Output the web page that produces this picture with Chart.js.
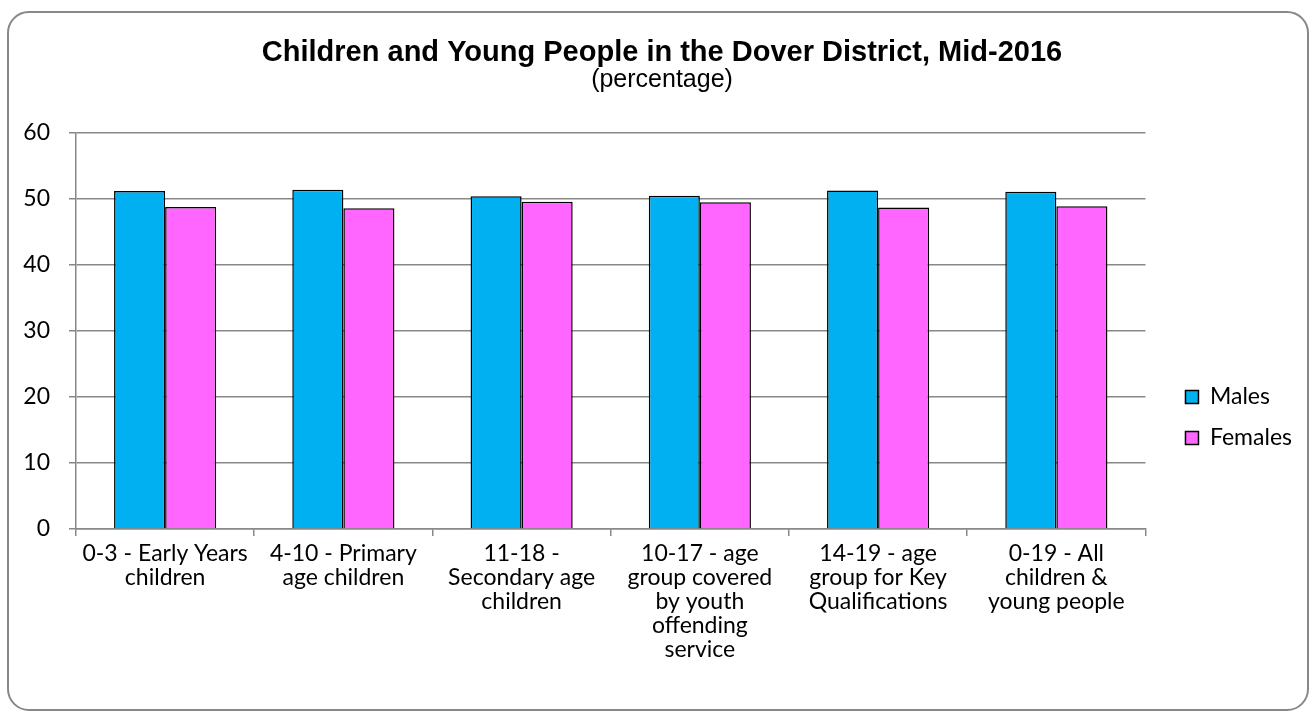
<!DOCTYPE html>
<html>
<head>
<meta charset="utf-8">
<script src="https://cdn.jsdelivr.net/npm/chart.js@4.4.1/dist/chart.umd.min.js"></script>
<style>
  html, body { margin: 0; padding: 0; background: #fff; }
  #frame {
    position: absolute; left: 7px; top: 11px;
    width: 1298px; height: 696px;
    border: 2px solid #888; border-radius: 22px;
  }
  #wrap { position: absolute; left: 0; top: 0; width: 1316px; height: 717px; }
</style>
</head>
<body>
<div id="frame"></div>
<div id="wrap"><canvas id="chart"></canvas></div>
<script>
/* Children and Young People in the Dover District, Mid-2016 */

// ── Data ─────────────────────────────────────────────────────────────────────
const categories = [
  ['0-3 - Early Years', 'children'],
  ['4-10 - Primary', 'age children'],
  ['11-18 -', 'Secondary age', 'children'],
  ['10-17 - age', 'group covered', 'by youth', 'offending', 'service'],
  ['14-19 - age', 'group for Key', 'Qualifications'],
  ['0-19 - All', 'children &', 'young people'],
];
const males   = [51.2, 51.4, 50.4, 50.5, 51.3, 51.1];
const females = [48.8, 48.6, 49.6, 49.5, 48.7, 48.9];
const yTicks  = [0, 10, 20, 30, 40, 50, 60];

const GRID = '#888';
const TEXT_FONT = 'Lato, "Open Sans", sans-serif';
const TITLE_FONT = '"Liberation Sans", Arial, sans-serif';

// ── Chart ────────────────────────────────────────────────────────────────────
new Chart(document.getElementById('chart'), {
  type: 'bar',
  data: {
    labels: categories,
    datasets: [
      { label: 'Males', data: males, backgroundColor: '#00B0F0',
        borderColor: '#000', borderWidth: 1.5 },
      { label: 'Females', data: females, backgroundColor: '#FF66FF',
        borderColor: '#000', borderWidth: 1.5 },
    ]
  },
  options: {
    responsive: true,
    maintainAspectRatio: false,
    animation: false,
    layout: { padding: { left: 22, right: 14, top: 0, bottom: 0 } },
    datasets: { bar: { categoryPercentage: 0.573, barPercentage: 1 } },
    plugins: {
      title: {
        display: true,
        text: 'Children and Young People in the Dover District, Mid-2016',
        color: '#000',
        font: { family: TITLE_FONT, size: 29, weight: 'bold', lineHeight: 1 },
        padding: { top: 38, bottom: 1 },
      },
      subtitle: {
        display: true,
        text: '(percentage)',
        color: '#000',
        font: { family: TITLE_FONT, size: 25, lineHeight: 1 },
        padding: { top: 0, bottom: 40 },
      },
      legend: {
        position: 'right',
        align: 'center',
        // empty title only pushes the key down to where it sits in the original
        title: { display: true, text: ' ', font: { size: 10, lineHeight: 1 }, padding: { top: 108, bottom: 0 } },
        labels: {
          color: '#000',
          font: { family: TEXT_FONT, size: 23 },
          boxWidth: 13, boxHeight: 13,
          padding: 18,
        }
      },
      tooltip: { enabled: false },
    },
    scales: {
      x: {
        grid: { drawOnChartArea: false, drawTicks: true, tickLength: 7, color: GRID, lineWidth: 1.5 },
        border: { color: GRID, width: 1.5 },
        ticks: { color: '#000', font: { family: TEXT_FONT, size: 23, lineHeight: 24 / 23 },
                 padding: 6, maxRotation: 0, autoSkip: false },
        afterFit: s => { s.height = 188; },
      },
      y: {
        min: 0, max: 60,
        afterBuildTicks: s => { s.ticks = yTicks.map(v => ({ value: v })); },
        grid: { color: GRID, lineWidth: 1.5, tickLength: 7 },
        border: { color: GRID, width: 1.5 },
        ticks: { color: '#000', font: { family: TEXT_FONT, size: 23 }, padding: 19 },
        afterFit: s => { s.width = 54; },
      },
      // blank strip between the plot and the key
      gap: {
        position: 'right',
        grid: { display: false },
        border: { display: false },
        ticks: { display: false },
        afterFit: s => { s.width = 22; },
      }
    }
  }
});
</script>
</body>
</html>
